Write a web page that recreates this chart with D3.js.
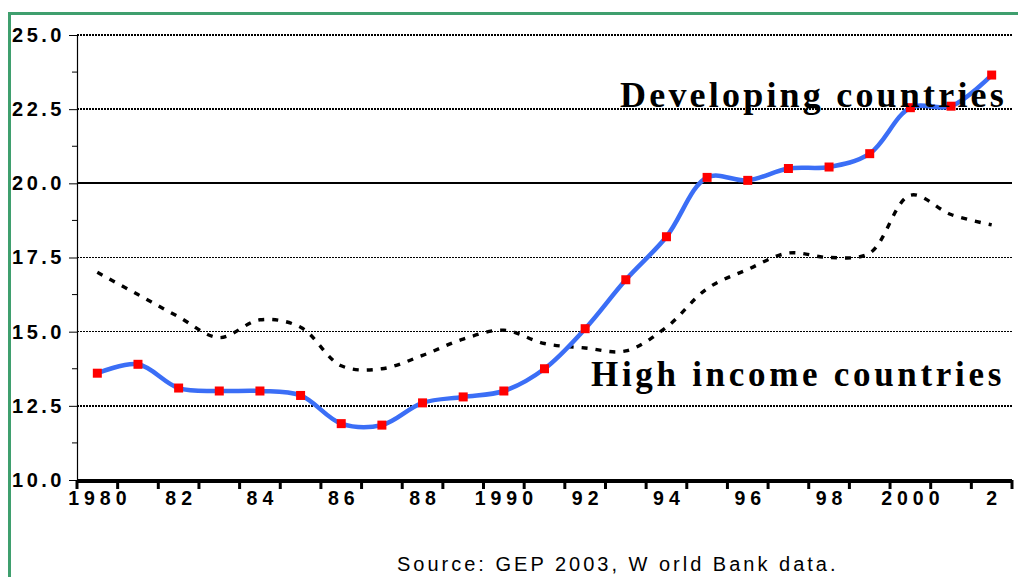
<!DOCTYPE html>
<html>
<head>
<meta charset="utf-8">
<script src="https://cdn.jsdelivr.net/npm/d3@7"></script>
<style>
  body { margin: 0; background: #fff; }
  svg { display: block; }
</style>
</head>
<body>
<script>
// Chart size
let width = 1018;
let height = 577;

// Plot area, in pixels
let plotLeft = 77, plotRight = 1012, plotTop = 35, plotBottom = 480;

// Data
var years = d3.range(1980, 2003);
var developing = [13.6, 13.9, 13.1, 13.0, 13.0, 12.85, 11.9, 11.85, 12.6, 12.8, 13.0, 13.75,
                  15.1, 16.75, 18.2, 20.2, 20.1, 20.5, 20.55, 21.0, 22.55, 22.6, 23.65];
var highIncome = [17.0, 16.25, 15.5, 14.8, 15.4, 15.15, 13.85, 13.75, 14.2, 14.75, 15.05, 14.6,
                  14.45, 14.35, 15.15, 16.45, 17.1, 17.65, 17.5, 17.65, 19.6, 18.95, 18.6];
var yTicks = [10, 12.5, 15, 17.5, 20, 22.5, 25];
var yMinor = [11.25, 13.75, 16.25, 18.75, 21.25, 23.75];
var xLabelYears = [1980, 1982, 1984, 1986, 1988, 1990, 1992, 1994, 1996, 1998, 2000, 2002];

var svg = d3.select('body')
            .append('svg')
            .attr('width', width)
            .attr('height', height);

// Green frame (top and left edges only are in view)
svg.append('path')
   .attr('d', 'M9.5,' + height + 'V13.5H' + width)
   .attr('fill', 'none')
   .attr('stroke', '#3f9f6e')
   .attr('stroke-width', 3);

var x = d3.scaleBand().domain(years).range([plotLeft, plotRight]).padding(0);
var y = d3.scaleLinear().domain([10, 25]).range([plotBottom, plotTop]);

// Gridlines
svg.append('g').selectAll('line')
   .data(yTicks.filter(d => d > 10))
   .enter().append('line')
   .attr('x1', plotLeft).attr('x2', plotRight)
   .attr('y1', d => y(d)).attr('y2', d => y(d))
   .attr('stroke', '#000')
   .attr('stroke-width', d => d == 20 ? 2 : 1.5)
   .attr('stroke-dasharray', d => d == 20 ? null : '2,1')
   .attr('shape-rendering', 'crispEdges');

// Y axis
var yAxis = svg.append('g')
   .attr('transform', 'translate(' + plotLeft + ',0)')
   .call(d3.axisLeft(y).tickValues(yTicks).tickSize(8).tickPadding(4).tickFormat(d3.format('.1f')));
yAxis.select('.domain').attr('stroke-width', 1.2);
yAxis.selectAll('text')
     .attr('font-family', 'Liberation Sans, Arial, sans-serif')
     .attr('font-weight', 'bold')
     .attr('font-size', 20)
     .attr('letter-spacing', 3.5)
     .attr('fill', '#000');

// Minor y ticks
svg.append('g').selectAll('line')
   .data(yMinor)
   .enter().append('line')
   .attr('x1', plotLeft - 5).attr('x2', plotLeft)
   .attr('y1', d => y(d)).attr('y2', d => y(d))
   .attr('stroke', '#000');

// X axis: labels at the band centres, ticks at the band edges
var xAxis = svg.append('g')
   .attr('transform', 'translate(0,' + plotBottom + ')')
   .call(d3.axisBottom(x).tickValues(xLabelYears).tickSize(0).tickPadding(11)
           .tickFormat(d => (d % 10 == 0) ? String(d) : String(d % 100)));
xAxis.select('.domain').remove();
xAxis.selectAll('text')
     .attr('font-family', 'Liberation Sans, Arial, sans-serif')
     .attr('font-weight', 'bold')
     .attr('font-size', 19.5)
     .attr('letter-spacing', 5)
     .attr('dx', 2.5)
     .attr('fill', '#000');

var edges = years.map(d => x(d)).concat([x.range()[1]]);
svg.append('g').selectAll('line')
   .data(edges)
   .enter().append('line')
   .attr('x1', d => d).attr('x2', d => d)
   .attr('y1', plotBottom).attr('y2', plotBottom + 9)
   .attr('stroke', '#000')
   .attr('stroke-width', 3);

svg.append('line')
   .attr('x1', plotLeft).attr('x2', plotRight)
   .attr('y1', plotBottom + 1).attr('y2', plotBottom + 1)
   .attr('stroke', '#000')
   .attr('stroke-width', 4);

// Series lines (smoothed like the original spreadsheet chart)
var line = d3.line()
   .x((d, i) => x(years[i]) + x.bandwidth() / 2)
   .y(d => y(d))
   .curve(d3.curveCatmullRom.alpha(0.5));

svg.append('path')
   .datum(highIncome)
   .attr('d', line)
   .attr('fill', 'none')
   .attr('stroke', '#000')
   .attr('stroke-width', 3.4)
   .attr('stroke-dasharray', '6,8');

svg.append('path')
   .datum(developing)
   .attr('d', line)
   .attr('fill', 'none')
   .attr('stroke', '#3b6ef6')
   .attr('stroke-width', 4.5);

svg.append('g').selectAll('rect')
   .data(developing)
   .enter().append('rect')
   .attr('x', (d, i) => x(years[i]) + x.bandwidth() / 2 - 4.5)
   .attr('y', d => y(d) - 4.5)
   .attr('width', 9).attr('height', 9)
   .attr('fill', '#ff0000');

// Series labels
svg.append('text')
   .attr('x', 620).attr('y', 107)
   .attr('font-family', 'Liberation Serif, Times New Roman, serif')
   .attr('font-weight', 'bold')
   .attr('font-size', 36)
   .attr('letter-spacing', 3.2)
   .attr('fill', '#000')
   .text('Developing countries');

svg.append('text')
   .attr('x', 591).attr('y', 386)
   .attr('font-family', 'Liberation Serif, Times New Roman, serif')
   .attr('font-weight', 'bold')
   .attr('font-size', 35)
   .attr('letter-spacing', 3.7)
   .attr('fill', '#000')
   .text('High income countries');

// Source note
svg.append('text')
   .attr('x', 397).attr('y', 571)
   .attr('font-family', 'Liberation Sans, Arial, sans-serif')
   .attr('font-size', 20)
   .attr('letter-spacing', 3)
   .attr('fill', '#000')
   .text('Source: GEP 2003, W orld Bank data.');
</script>
</body>
</html>
